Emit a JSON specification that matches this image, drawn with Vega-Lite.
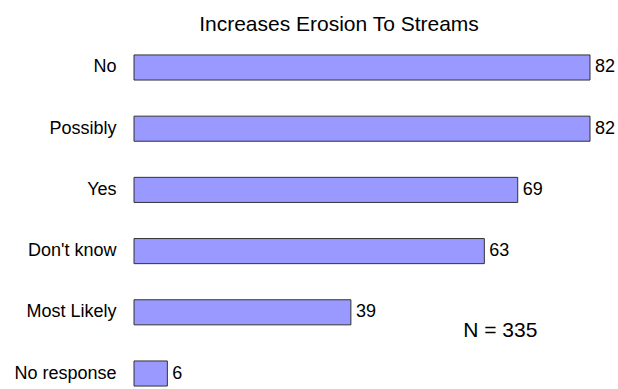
{
  "$schema": "https://vega.github.io/schema/vega-lite/v6.json",
  "autosize": "none",
  "width": 456,
  "height": 337,
  "padding": {"left": 134, "top": 52, "right": 28, "bottom": 0},
  "background": "white",
  "title": {
    "text": "Increases Erosion To Streams",
    "font": "Liberation Sans",
    "fontSize": 21,
    "fontWeight": "normal",
    "color": "black",
    "anchor": "middle",
    "frame": "group",
    "baseline": "alphabetic",
    "offset": 0,
    "dx": -23
  },
  "config": {"view": {"stroke": null}},
  "data": {
    "values": [
      {"response": "No", "count": 82},
      {"response": "Possibly", "count": 82},
      {"response": "Yes", "count": 69},
      {"response": "Don't know", "count": 63},
      {"response": "Most Likely", "count": 39},
      {"response": "No response", "count": 6}
    ]
  },
  "encoding": {
    "y": {
      "field": "response",
      "type": "nominal",
      "sort": null,
      "scale": {"paddingInner": 0.59, "paddingOuter": 0.048},
      "axis": {
        "title": null,
        "domain": false,
        "ticks": false,
        "labelPadding": 18,
        "labelFont": "Liberation Sans",
        "labelFontSize": 18,
        "labelColor": "black"
      }
    }
  },
  "layer": [
    {
      "mark": {"type": "bar", "fill": "#9999FF", "stroke": "#333333", "strokeWidth": 1},
      "encoding": {
        "x": {
          "field": "count",
          "type": "quantitative",
          "scale": {"domain": [0, 82], "nice": false, "zero": true},
          "axis": null
        }
      }
    },
    {
      "mark": {"type": "text", "align": "left", "baseline": "middle", "dx": 5, "font": "Liberation Sans", "fontSize": 18, "color": "black"},
      "encoding": {
        "x": {"field": "count", "type": "quantitative"},
        "text": {"field": "count", "type": "quantitative"}
      }
    },
    {
      "data": {"values": [{"label": "N = 335", "x": 59.2, "response": "Most Likely"}]},
      "mark": {"type": "text", "align": "left", "baseline": "alphabetic", "dy": 24.5, "font": "Liberation Sans", "fontSize": 21, "color": "black"},
      "encoding": {
        "x": {"field": "x", "type": "quantitative"},
        "text": {"field": "label"}
      }
    }
  ]
}
